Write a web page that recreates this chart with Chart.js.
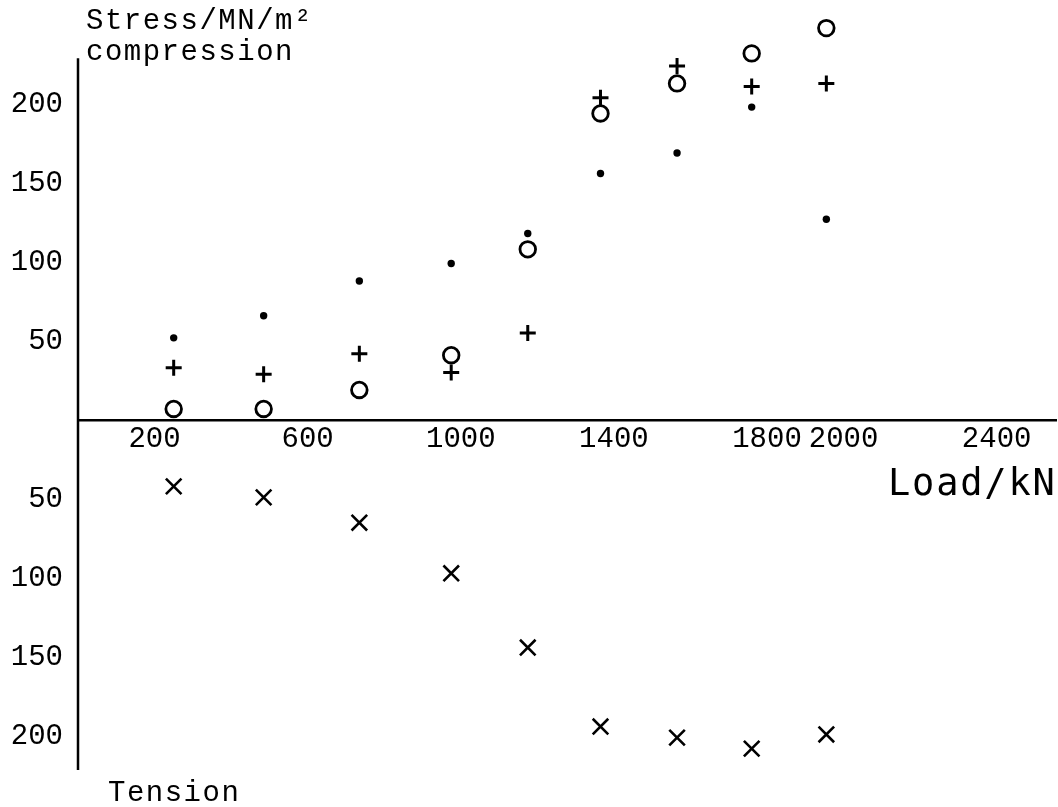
<!DOCTYPE html>
<html>
<head>
<meta charset="utf-8">
<title>Stress against load</title>
<script src="https://cdn.jsdelivr.net/npm/chart.js@4.4.1/dist/chart.umd.min.js"></script>
<style>
  html, body { margin: 0; padding: 0; background: #fff; }
  canvas { display: block; }
</style>
</head>
<body>
<canvas id="graph" width="1058" height="807"></canvas>
<script>
// load steps (kN), same for every gauge
var loads = [250, 485, 735, 975, 1175, 1365, 1565, 1760, 1955];

// compression readings, MN/m2
var stressDot = [52, 66, 88, 99, 118, 156, 169, 198, 127];
var stressPlus = [33, 29, 42, 30, 55, 204, 224, 211, 213];
var stressRing = [7, 7, 19, 41, 108, 194, 213, 232, 248];

// tension readings, MN/m2 (go below the load axis)
var stressCross = [42, 49, 65, 97, 144, 194, 201, 208, 199];

var loadTicks = [200, 600, 1000, 1400, 1800, 2000, 2400];
var stressTicks = [200, 150, 100, 50, -50, -100, -150, -200];

// the stress axis line stops a little below the top of the plot
var stressAxisTop = 229;

function points(values, sign) {
    return loads.map(function (load, i) {
        return { x: load, y: sign * values[i] };
    });
}

// stress axis line plus the typed captions round the axes
var axisText = {
    id: 'axisText',
    afterDraw: function (chart) {
        var ctx = chart.ctx;
        var area = chart.chartArea;
        var yScale = chart.scales.y;

        ctx.save();
        ctx.strokeStyle = '#000';
        ctx.lineWidth = 2.5;
        ctx.beginPath();
        ctx.moveTo(area.left, yScale.getPixelForValue(stressAxisTop));
        ctx.lineTo(area.left, area.bottom);
        ctx.stroke();

        ctx.fillStyle = '#000';
        ctx.textBaseline = 'alphabetic';
        ctx.textAlign = 'left';
        ctx.font = '29px "Liberation Mono"';
        ctx.letterSpacing = '1.5px';
        ctx.fillText('Stress/MN/m\u00b2', 86, 29);
        ctx.fillText('compression', 86, 60);
        ctx.fillText('Tension', 108, 801);
        ctx.font = '37px "DejaVu Sans Mono"';
        ctx.letterSpacing = '1.8px';
        ctx.fillText('Load/kN', 888, 495);
        ctx.restore();
    }
};

Chart.defaults.font.family = '"Liberation Mono", monospace';
Chart.defaults.font.size = 29;
Chart.defaults.color = '#000';

var chartCtx = document.getElementById('graph').getContext('2d');

var chart = new Chart(chartCtx, {
    type: 'scatter',
    data: {
        datasets: [
            {
                label: 'dot',
                data: points(stressDot, 1),
                pointStyle: 'circle',
                pointRadius: 3.7,
                pointBorderWidth: 0,
                backgroundColor: '#000',
                borderColor: '#000',
                clip: false
            },
            {
                label: 'plus',
                data: points(stressPlus, 1),
                pointStyle: 'cross',
                pointRadius: 8,
                pointBorderWidth: 3,
                borderColor: '#000',
                backgroundColor: '#000',
                clip: false
            },
            {
                label: 'ring',
                data: points(stressRing, 1),
                pointStyle: 'circle',
                pointRadius: 7.8,
                pointBorderWidth: 2.8,
                borderColor: '#000',
                backgroundColor: 'rgba(0,0,0,0)',
                clip: false
            },
            {
                label: 'tension',
                data: points(stressCross, -1),
                pointStyle: 'crossRot',
                pointRadius: 11,
                pointBorderWidth: 2.6,
                borderColor: '#000',
                backgroundColor: '#000',
                clip: false
            }
        ]
    },
    options: {
        responsive: false,
        animation: false,
        layout: {
            autoPadding: false,
            padding: { top: 18, right: 2, bottom: 37, left: 0 }
        },
        plugins: {
            legend: { display: false },
            tooltip: { enabled: false }
        },
        scales: {
            x: {
                type: 'linear',
                position: { y: 0 },
                min: 0,
                max: 2555,
                grid: { display: false, drawTicks: false },
                border: { display: true, color: '#000', width: 2.5 },
                ticks: {
                    autoSkip: false,
                    maxRotation: 0,
                    padding: 2,
                    callback: function (value) { return String(value); }
                },
                afterBuildTicks: function (scale) {
                    scale.ticks = loadTicks.map(function (v) { return { value: v }; });
                },
                afterFit: function (scale) {
                    scale.paddingLeft = 0;
                    scale.paddingRight = 0;
                }
            },
            y: {
                type: 'linear',
                position: 'left',
                min: -221.5,
                max: 254.4,
                grid: { display: false, drawTicks: false },
                border: { display: false },
                ticks: {
                    autoSkip: false,
                    padding: 15,
                    callback: function (value) { return String(Math.abs(value)); }
                },
                afterBuildTicks: function (scale) {
                    scale.ticks = stressTicks.map(function (v) { return { value: v }; });
                },
                afterFit: function (scale) {
                    scale.width = 78;
                    scale.paddingTop = 0;
                    scale.paddingBottom = 0;
                }
            }
        }
    },
    plugins: [axisText]
});
</script>
</body>
</html>
